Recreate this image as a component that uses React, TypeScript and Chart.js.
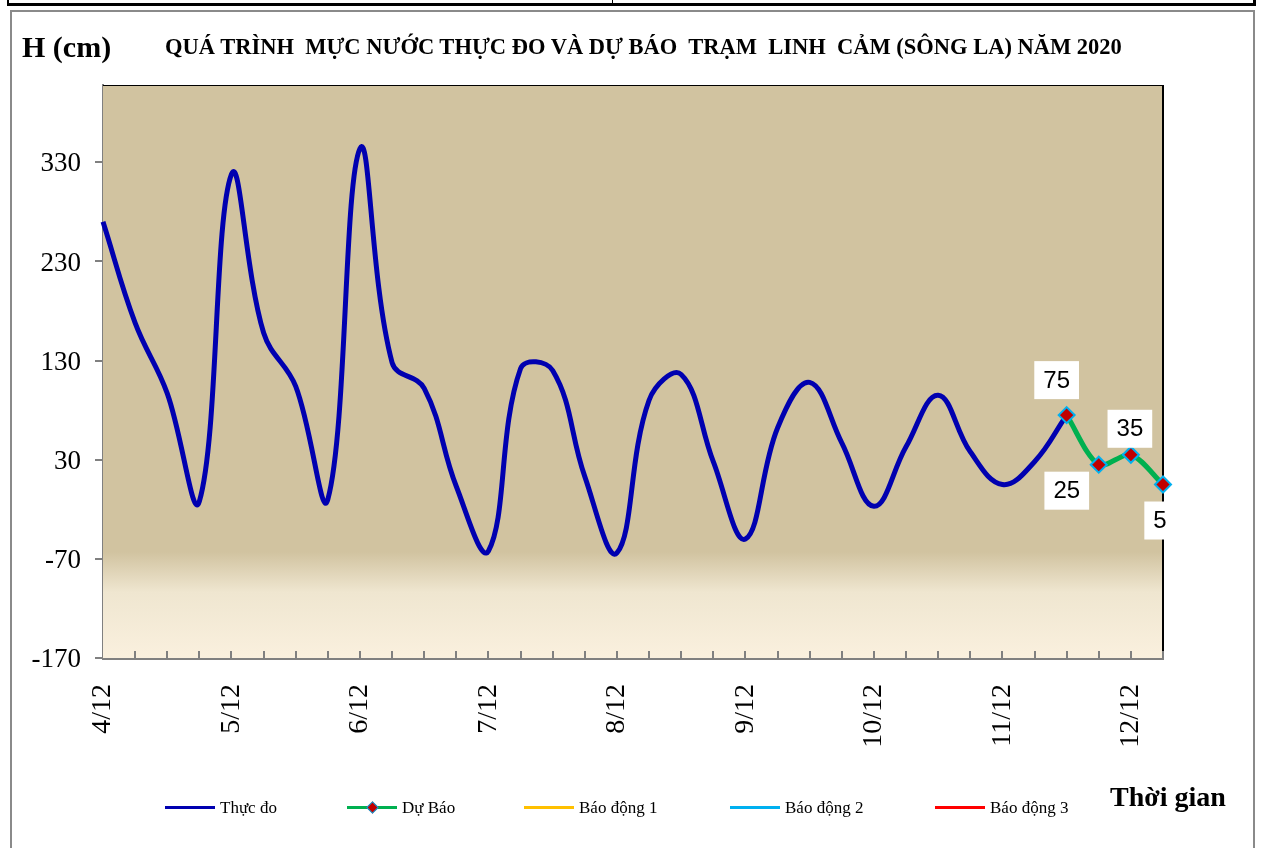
import React, { useEffect, useRef } from 'react';
import { Chart, registerables } from 'chart.js';
Chart.register(...registerables);

// ---- data ----
const dayLabels = ['4/12', '5/12', '6/12', '7/12', '8/12', '9/12', '10/12', '11/12', '12/12'];
const slotsPerDay = 4;
const slotCount = 34;
const observed = [270, 168, 97, -12, 318, 158, 104, -10, 344, 128, 102, 3, -62, 122, 120, 13, -64, 90, 116, 28, -50, 62, 108, 47, -17, 43, 95, 38, 5, 28, 75];
const forecast = [75, 25, 35, 5];
const forecastStart = 30;
const yTickValues = [-170, -70, 30, 130, 230, 330];
const yMin = -170;
const yMax = 408;
const legendLabels = ['Thực đo', 'Dự Báo', 'Báo động 1', 'Báo động 2', 'Báo động 3'];
const titleText = 'QUÁ TRÌNH  MỰC NƯỚC THỰC ĐO VÀ DỰ BÁO  TRẠM  LINH  CẢM (SÔNG LA) NĂM 2020';

const categories = Array.from({ length: slotCount }, (_, i) => (i % slotsPerDay === 0 ? dayLabels[i / slotsPerDay] : ''));
const forecastData = categories.map((_, i) => (i >= forecastStart ? forecast[i - forecastStart] : null));

// ---- styles ----
const legendColors = ['#0000B0', '#00B050', '#FFC000', '#00B0F0', '#FF0000'];
const legendLineX = [165, 347, 524, 730, 935];
const serif = '"Liberation Serif", "Times New Roman", serif';

const bgPlugin = {
  id: 'bgPlugin',
  beforeDatasetsDraw(chart: any) {
    const { ctx, chartArea: a } = chart;
    const g = ctx.createLinearGradient(0, a.top, 0, a.bottom);
    g.addColorStop(0, '#D1C3A0');
    g.addColorStop(0.815, '#D1C3A0');
    g.addColorStop(0.885, '#EFE6D0');
    g.addColorStop(1, '#FAF0DE');
    ctx.save();
    ctx.fillStyle = g;
    ctx.fillRect(a.left, a.top, a.right - a.left, a.bottom - a.top);
    // border top / right
    ctx.strokeStyle = '#000';
    ctx.lineWidth = 1;
    ctx.beginPath();
    ctx.moveTo(a.left, a.top + 0.5);
    ctx.lineTo(a.right, a.top + 0.5);
    ctx.stroke();
    ctx.lineWidth = 2;
    ctx.beginPath();
    ctx.moveTo(a.right, a.top);
    ctx.lineTo(a.right, a.bottom);
    ctx.stroke();
    // inner ticks on x axis
    const xs = chart.scales.x;
    ctx.strokeStyle = '#808080';
    ctx.lineWidth = 2;
    for (let i = 1; i < categories.length; i++) {
      const px = Math.round(xs.getPixelForValue(i));
      ctx.beginPath();
      ctx.moveTo(px, a.bottom);
      ctx.lineTo(px, a.bottom - 7);
      ctx.stroke();
    }
    ctx.restore();
  },
};

const labelOffsets = [
  [-10, -35],
  [-32, 26],
  [-1, -26],
  [-3, 36],
];

const labelPlugin = {
  id: 'labelPlugin',
  afterDatasetsDraw(chart: any) {
    const { ctx } = chart;
    const meta = chart.getDatasetMeta(1);
    ctx.save();
    ctx.font = '24px "Liberation Sans", Arial, sans-serif';
    ctx.textAlign = 'center';
    ctx.textBaseline = 'middle';
    forecast.forEach((v, k) => {
      const el = meta.data[forecastStart + k];
      if (!el) return;
      const [dx, dy] = labelOffsets[k];
      const cx = el.x + dx;
      const cy = el.y + dy;
      const txt = String(v);
      const w = ctx.measureText(txt).width + 18;
      const h = 38;
      ctx.fillStyle = '#fff';
      ctx.fillRect(cx - w / 2, cy - h / 2, w, h);
      ctx.fillStyle = '#000';
      ctx.fillText(txt, cx, cy + 1);
    });
    ctx.restore();
  },
};

function ChartCanvas() {
  const ref = useRef<HTMLCanvasElement | null>(null);
  useEffect(() => {
    if (!ref.current) return;
    const chart = new Chart(ref.current, {
      type: 'line',
      data: {
        labels: categories,
        datasets: [
          {
            label: legendLabels[0],
            data: observed,
            borderColor: legendColors[0],
            borderWidth: 5,
            pointRadius: 0,
            tension: 0.4,
            fill: false,
            clip: false,
            order: 2,
          } as any,
          {
            label: legendLabels[1],
            data: forecastData,
            borderColor: legendColors[1],
            borderWidth: 5,
            pointStyle: 'rectRot',
            pointRadius: 8,
            pointBackgroundColor: '#C00000',
            pointBorderColor: '#00B0F0',
            pointBorderWidth: 2,
            tension: 0.3,
            fill: false,
            clip: false,
            order: 1,
          } as any,
        ],
      },
      options: {
        responsive: false,
        animation: false,
        devicePixelRatio: 1,
        layout: { padding: { top: 85, right: 98, left: 0, bottom: 0 } },
        plugins: {
          legend: { display: false },
          title: { display: false },
          tooltip: { enabled: false },
        },
        scales: {
          x: {
            type: 'category',
            offset: false,
            grid: { display: false },
            border: { color: '#808080', width: 3 },
            ticks: {
              autoSkip: false,
              maxRotation: 90,
              minRotation: 90,
              padding: 18,
              color: '#000',
              font: { family: serif, size: 28 },
            },
            afterFit: (s: any) => {
              s.height = 190;
            },
          },
          y: {
            min: yMin,
            max: yMax,
            afterBuildTicks: (s: any) => {
              s.ticks = yTickValues.map((v) => ({ value: v }));
            },
            grid: { drawOnChartArea: false, color: '#808080', lineWidth: 2, tickLength: 8 },
            border: { color: '#808080', width: 2 },
            ticks: {
              padding: 14,
              labelOffset: 2,
              color: '#000',
              font: { family: serif, size: 27 },
            },
            afterFit: (s: any) => {
              s.width = 103;
            },
          },
        },
      } as any,
      plugins: [bgPlugin, labelPlugin],
    });
    return () => chart.destroy();
  }, []);
  return <canvas ref={ref} width={1261} height={848} style={{ position: 'absolute', left: 0, top: 0 }} />;
}

export default function App() {
  return (
    <div style={{ position: 'absolute', left: 0, top: 0, width: 1261, height: 848, overflow: 'hidden', background: '#fff' }}>
      {/* frame from table above */}
      <div style={{ position: 'absolute', left: 7, top: 3, width: 1249, height: 3, background: '#000' }} />
      <div style={{ position: 'absolute', left: 7, top: 0, width: 2, height: 6, background: '#000' }} />
      <div style={{ position: 'absolute', left: 612, top: 0, width: 1, height: 6, background: '#000' }} />
      <div style={{ position: 'absolute', left: 1253, top: 0, width: 3, height: 6, background: '#000' }} />
      {/* chart box */}
      <div style={{ position: 'absolute', left: 10, top: 10, width: 1241, height: 850, border: '2px solid #8A8A8A' }} />
      <ChartCanvas />
      <div style={{ position: 'absolute', left: 22, top: 29, fontFamily: serif, fontWeight: 'bold', fontSize: 30, lineHeight: '36px', color: '#000', whiteSpace: 'pre' }}>H (cm)</div>
      <div style={{ position: 'absolute', left: 165, top: 33, fontFamily: serif, fontWeight: 'bold', fontSize: 22.5, lineHeight: '28px', color: '#000', whiteSpace: 'pre' }}>{titleText}</div>
      <div style={{ position: 'absolute', left: 1110, top: 780, fontFamily: serif, fontWeight: 'bold', fontSize: 28, lineHeight: '34px', color: '#000', whiteSpace: 'pre' }}>Thời gian</div>
      {legendLabels.map((lab, i) => (
        <React.Fragment key={lab}>
          <div style={{ position: 'absolute', left: legendLineX[i], top: 806, width: 50, height: 3, background: legendColors[i] }} />
          {i === 1 && (
            <div style={{ position: 'absolute', left: legendLineX[i] + 21, top: 803, width: 7, height: 7, background: '#C00000', border: '1px solid #00B0F0', transform: 'rotate(45deg)' }} />
          )}
          <div style={{ position: 'absolute', left: legendLineX[i] + 55, top: 797, fontFamily: serif, fontSize: 17, lineHeight: '22px', color: '#000', whiteSpace: 'pre' }}>{lab}</div>
        </React.Fragment>
      ))}
    </div>
  );
}
